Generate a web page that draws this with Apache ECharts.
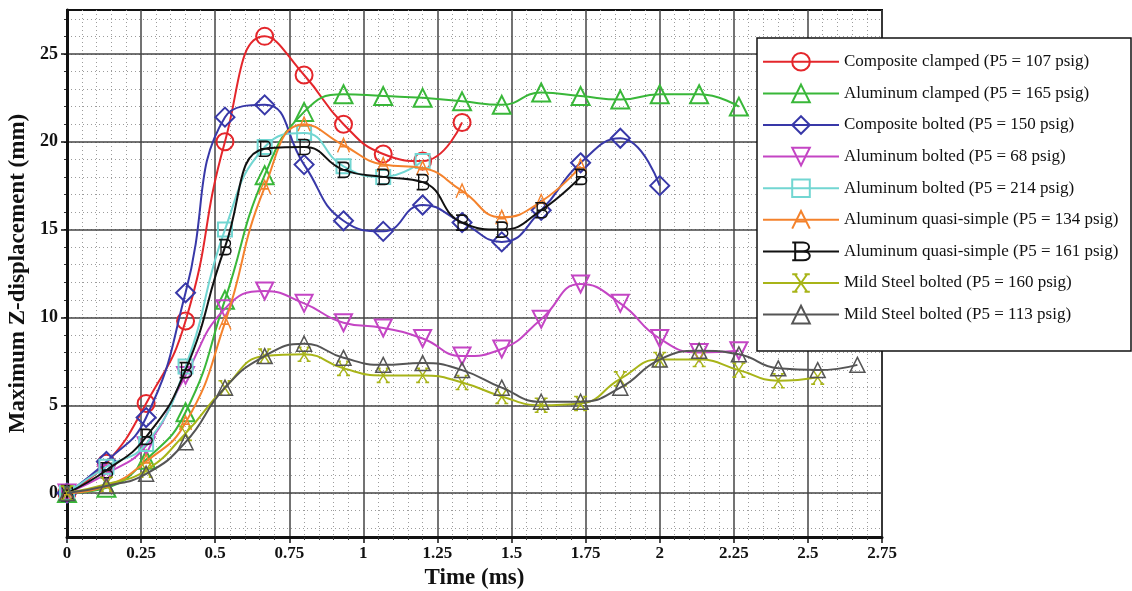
<!DOCTYPE html>
<html>
<head>
<meta charset="utf-8">
<script src="https://cdn.jsdelivr.net/npm/echarts@6/dist/echarts.min.js"></script>
<style>
  html, body { margin: 0; padding: 0; background: #fff; }
  #chart { width: 1132px; height: 591px; }
</style>
</head>
<body>
<div id="chart"></div>
<script>
// sample times (ms)
var times = [0, 0.133, 0.267, 0.4, 0.533, 0.667, 0.8, 0.933, 1.067, 1.2, 1.333,
             1.467, 1.6, 1.733, 1.867, 2.0, 2.133, 2.267, 2.4, 2.533, 2.667];

// Maximum Z-displacement (mm)
var compositeClamped107 = [0, 1.7, 5.1, 9.8, 20.0, 26.0, 23.8, 21.0, 19.3, 18.9, 21.1];
var aluminumClamped165 = [0, 0.3, 1.9, 4.6, 11.0, 18.1, 21.7, 22.7, 22.6, 22.5, 22.3, 22.1, 22.8, 22.6, 22.4, 22.7, 22.7, 22.0];
var compositeBolted150 = [0, 1.8, 4.3, 11.4, 21.4, 22.1, 18.7, 15.5, 14.9, 16.4, 15.4, 14.3, 16.1, 18.8, 20.2, 17.5];
var aluminumBolted68 = [0, 1.1, 2.7, 6.7, 10.5, 11.5, 10.8, 9.7, 9.4, 8.8, 7.8, 8.2, 9.9, 11.9, 10.8, 8.8, 8.0, 8.1];
var aluminumBolted214 = [0, 1.5, 2.8, 7.2, 15.0, 19.7, 20.5, 18.6, 18.0, 18.9];
var quasiSimple134 = [0, 0.4, 1.8, 4.0, 9.7, 17.4, 21.0, 19.8, 18.7, 18.5, 17.2, 15.7, 16.6, 18.6];
var quasiSimple161 = [0, 1.3, 3.2, 7.0, 14.0, 19.6, 19.7, 18.4, 18.0, 17.7, 15.4, 15.0, 16.1, 18.0];
var mildSteel160 = [0, 0.5, 1.3, 3.4, 6.0, 7.8, 7.9, 7.1, 6.7, 6.7, 6.3, 5.5, 5.0, 5.1, 6.5, 7.6, 7.6, 7.0, 6.4, 6.6];
var mildSteel113 = [0, 0.4, 1.1, 2.9, 6.0, 7.8, 8.5, 7.7, 7.3, 7.4, 7.0, 6.0, 5.2, 5.2, 6.0, 7.6, 8.1, 7.9, 7.1, 7.0, 7.3];

var yMajorTicks = [0, 5, 10, 15, 20, 25];
var yMinorTicks = [-2, -1, 0, 1, 2, 3, 4, 5, 6, 7, 8, 9, 10, 11, 12, 13, 14, 15, 16, 17, 18, 19, 20,
                   21, 22, 23, 24, 25, 26, 27];

var serif = "'Liberation Serif', 'Times New Roman', serif";

var symA = 'path://M0,20 L10,0 L20,20 M4.5,12 L15.5,12';
var symB = 'path://M3,0 L3,20 M0,0 L11,0 C19,0 19,10 11,10 L3,10 M11,10 C20,10 20,20 11,20 L0,20';
var symX = 'path://M3,0 L17,20 M17,0 L3,20 M0,0 L6,0 M14,0 L20,0 M0,20 L6,20 M14,20 L20,20';

function pairs(vals) {
  return vals.map(function (v, i) { return [times[i], v]; });
}

function mk(name, vals, color, symbol, size, rotate, bw) {
  return {
    name: name,
    type: 'line',
    smooth: true,
    data: pairs(vals),
    symbol: symbol,
    symbolSize: size,
    symbolRotate: rotate || 0,
    lineStyle: { color: color, width: 2 },
    itemStyle: { color: 'rgba(255,255,255,0)', borderColor: color, borderWidth: bw || 2 }
  };
}

var series = [
  mk('Composite clamped (P5 = 107 psig)', compositeClamped107, '#e4262b', 'circle', 17),
  mk('Aluminum clamped (P5 = 165 psig)', aluminumClamped165, '#39b739', 'triangle', 18),
  mk('Composite bolted (P5 = 150 psig)', compositeBolted150, '#3838a8', 'diamond', 19),
  mk('Aluminum bolted (P5 = 68 psig)', aluminumBolted68, '#c445c4', 'triangle', 17, 180),
  mk('Aluminum bolted (P5 = 214 psig)', aluminumBolted214, '#72d6d2', 'rect', 14),
  mk('Aluminum quasi-simple (P5 = 134 psig)', quasiSimple134, '#f4822c', symA, [12, 14], 0, 1.5),
  mk('Aluminum quasi-simple (P5 = 161 psig)', quasiSimple161, '#111111', symB, [12, 15], 0, 1.5),
  mk('Mild Steel bolted (P5 = 160 psig)', mildSteel160, '#a8b418', symX, [13, 14], 0, 1.5),
  mk('Mild Steel bolted (P5 = 113 psig)', mildSteel113, '#555555', 'triangle', 15, 0, 1.5)
];
series.forEach(function (s, i) { s.z = 2 + i * 0.01; });

var chart = echarts.init(document.getElementById('chart'));
chart.setOption({
  animation: false,
  backgroundColor: '#fff',
  grid: {
    left: 67, right: 250, top: 10, bottom: 54, outerBoundsMode: 'none',
    show: true, borderColor: '#111', borderWidth: 2
  },
  graphic: [{
    type: 'rect', z: 3,
    shape: { x: 757, y: 38, width: 374, height: 313 },
    style: { fill: '#fff', stroke: '#111', lineWidth: 1.5 }
  }],
  legend: {
    orient: 'vertical',
    left: 757, top: 38,
    padding: [14, 5, 5, 5],
    itemWidth: 76, itemHeight: 22, itemGap: 12,
    z: 5,
    textStyle: { fontFamily: serif, fontSize: 17, color: '#111' }
  },
  xAxis: {
    type: 'value', min: 0, max: 2.75, interval: 0.25,
    name: 'Time (ms)', nameLocation: 'middle', nameGap: 30,
    nameTextStyle: { fontFamily: serif, fontSize: 23, fontWeight: 'bold', color: '#111' },
    axisLine: { show: true, onZero: false, lineStyle: { color: '#111', width: 3 } },
    axisTick: { show: true, length: 6, lineStyle: { color: '#111', width: 1.5 } },
    minorTick: { show: true, splitNumber: 5, length: 3, lineStyle: { color: '#333' } },
    axisLabel: { fontFamily: serif, fontSize: 17, fontWeight: 'bold', color: '#111', margin: 8 },
    splitLine: { show: true, lineStyle: { color: '#444', width: 1.5 } },
    minorSplitLine: { show: true, lineStyle: { color: '#9c9c9c', width: 1, type: [1, 3] } }
  },
  yAxis: [{
    type: 'value', min: -2.5, max: 27.5, position: 'left',
    name: 'Maximum Z-displacement (mm)', nameLocation: 'middle', nameGap: 36,
    nameTextStyle: { fontFamily: serif, fontSize: 23, fontWeight: 'bold', color: '#111' },
    axisLine: { show: true, onZero: false, lineStyle: { color: '#111', width: 3 } },
    axisTick: { show: true, length: 6, customValues: yMajorTicks, lineStyle: { color: '#111', width: 1.5 } },
    axisLabel: { customValues: yMajorTicks, fontFamily: serif, fontSize: 18, fontWeight: 'bold', color: '#111', margin: 9 },
    splitLine: { show: true, lineStyle: { color: '#444', width: 1.5 } },
    z: 1
  }, {
    type: 'value', min: -2.5, max: 27.5, position: 'left',
    axisLine: { show: false },
    axisTick: { show: true, length: 3, customValues: yMinorTicks, lineStyle: { color: '#333' } },
    axisLabel: { show: false },
    splitLine: { show: true, lineStyle: { color: '#9c9c9c', width: 1, type: [1, 3] } },
    z: 0
  }],
  series: series
});
</script>
</body>
</html>
